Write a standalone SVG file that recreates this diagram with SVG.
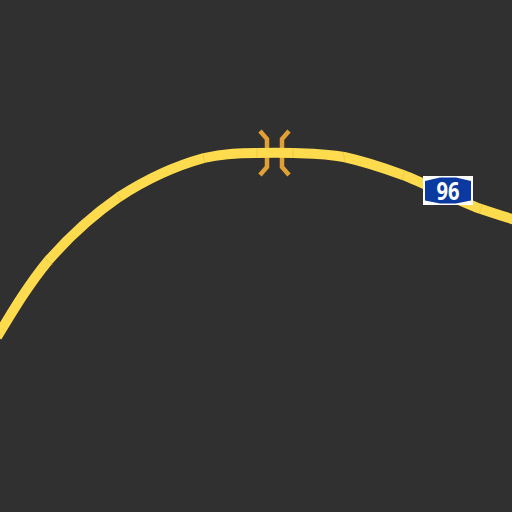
<svg xmlns="http://www.w3.org/2000/svg" width="512" height="512" viewBox="0 0 512 512">
<style>
.road{fill:none;stroke:#ffdb4d;stroke-width:10}
.tick{fill:none;stroke:#c9a83f;stroke-width:.5;stroke-opacity:.7}
.br{fill:none;stroke:#e0a035;stroke-width:4.500}
</style>
<rect width="512" height="512" fill="#303030"/>
<g id="connectors">
<path class="br" d="M260 131L267 139V167L260 175M289 131L282 139V167L289 175"/>
<path class="road" d="M-3 337C14 309 29 284 48 261C68 238 93 215 119 197C145 180 175 166 204 158C225 153 242 153 257 153C272 152.500 279 152.500 293 153C308 153.500 326 153.500 344 157C362 161 380 166.500 403 175C426 183.500 460 202 481 209C496 214 505 217 514 219.500"/>
<path class="tick" d="M44 257L53 265M116 192L122 201M203 153L205 163M257 148V158M293 148V158M343 152L345 162M405 170L402 180M483 204L479 214"/>
</g>
<g id="shield">
<rect x="423" y="176" width="50" height="29" fill="#fff"/>
<path d="M425 181L440 177.500H456L471 181V200.500L456 203.500H440L425 200.500Z" fill="#0a3aa0"/>
<text x="448" y="200" font-family="'Open Sans',sans-serif" font-size="25" font-weight="700" fill="#fff" text-anchor="middle" textLength="23" lengthAdjust="spacingAndGlyphs">96</text>
</g>
</svg>
